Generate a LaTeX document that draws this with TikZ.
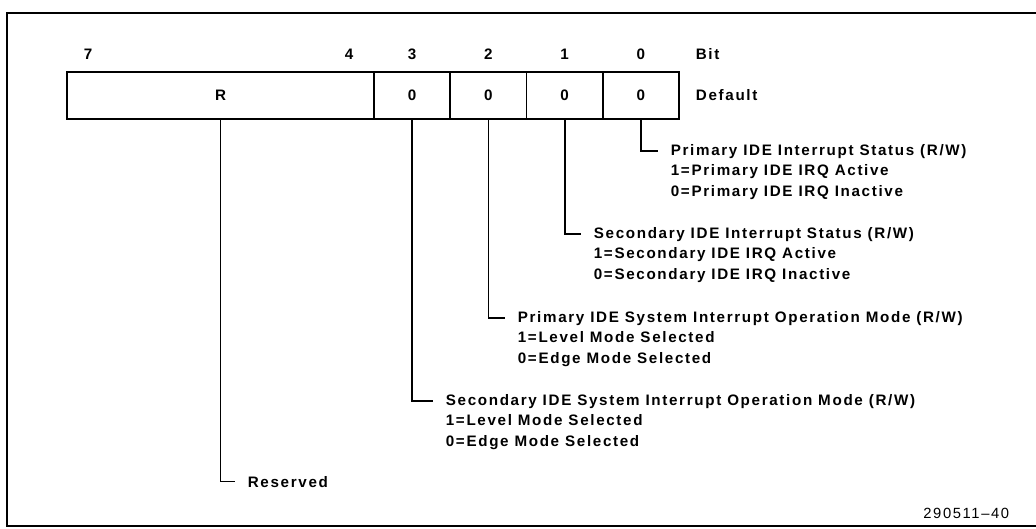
\documentclass[tikz,border=0pt]{standalone}
\usepackage{fontspec}
\setmainfont{Liberation Sans}[LetterSpace=11]
\usetikzlibrary{positioning}

\begin{document}
\begin{tikzpicture}[x=0.025cm, y=-0.025cm, line width=1.2pt,
    font=\fontsize{10.8}{14.7}\selectfont\bfseries,
    cell/.style={draw, rectangle, minimum height=1.175cm, inner sep=0pt, outer sep=0pt},
    bitcell/.style={cell, minimum width=1.906cm},
    txt/.style={inner sep=0pt, anchor=base west, align=left}]
    \useasboundingbox (0,0) rectangle (1036,528);
    \draw[line width=1pt] (7,13) rectangle (1060,526);

    % register fields
    \node (FieldR) [cell, minimum width=7.675cm] at (220.5,95.5) {R};
    \node (Bit3) [bitcell, right=0pt of FieldR] {0};
    \node (Bit2) [bitcell, right=0pt of Bit3] {0};
    \node (Bit1) [bitcell, right=0pt of Bit2] {0};
    \node (Bit0) [bitcell, right=0pt of Bit1] {0};

    % bit numbers
    \node (Num7) at (88,54) {7};
    \node (Num4) at (349,54) {4};
    \node (Num3) at (Bit3 |- Num7) {3};
    \node (Num2) at (Bit2 |- Num7) {2};
    \node (Num1) at (Bit1 |- Num7) {1};
    \node (Num0) at (Bit0 |- Num7) {0};
    \node (BitHead) [anchor=west, inner sep=0pt] at (695,54) {Bit};
    \node (DefaultHead) [anchor=west, inner sep=0pt, right=0.4cm of Bit0] {Default};

    % field descriptions (detail nodes sit on their last baseline)
    \node (Title0) [txt] at (670,155) {Primary IDE Interrupt Status (R/W)};
    \node (Detail0) [txt] at (670,196.5) {1=Primary IDE IRQ Active\\0=Primary IDE IRQ Inactive};
    \node (Title1) [txt] at (593,238) {Secondary IDE Interrupt Status (R/W)};
    \node (Detail1) [txt] at (593,279.5) {1=Secondary IDE IRQ Active\\0=Secondary IDE IRQ Inactive};
    \node (Title2) [txt] at (517,322) {Primary IDE System Interrupt Operation Mode (R/W)};
    \node (Detail2) [txt] at (517,363.5) {1=Level Mode Selected\\0=Edge Mode Selected};
    \node (Title3) [txt] at (445,405) {Secondary IDE System Interrupt Operation Mode (R/W)};
    \node (Detail3) [txt] at (445,446.5) {1=Level Mode Selected\\0=Edge Mode Selected};
    \node (TitleR) [txt] at (247,487) {Reserved};

    \draw (Bit0.south) |- ([xshift=-0.3cm]Title0.west);
    \draw (Bit1.south) |- ([xshift=-0.3cm]Title1.west);
    \draw (Bit2.south) |- ([xshift=-0.3cm]Title2.west);
    \draw (Bit3.south) |- ([xshift=-0.3cm]Title3.west);
    \draw (FieldR.south) |- ([xshift=-0.3cm]TitleR.west);

    \node (FigNo) [anchor=base east, inner sep=0pt, font=\fontsize{10.5}{12}\selectfont] at (1010,518) {290511--40};
\end{tikzpicture}
\end{document}
